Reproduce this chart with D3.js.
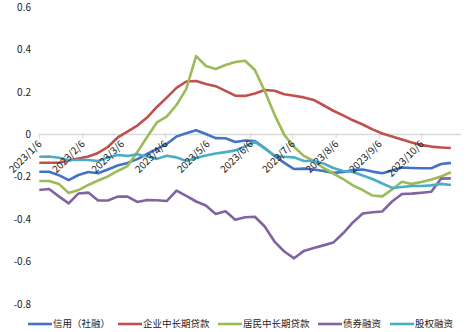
<!DOCTYPE html>
<html><head><meta charset="utf-8">
<script src="https://cdn.jsdelivr.net/npm/d3@7"></script>
<style>
html,body{margin:0;padding:0;background:#fff;}
svg{display:block;}
</style></head>
<body>
<svg id="chart" width="468" height="332"></svg>
<script>
const dates = ["2023-01-06","2023-01-13","2023-01-20","2023-01-27","2023-02-03","2023-02-10","2023-02-17","2023-02-24",
"2023-03-03","2023-03-10","2023-03-17","2023-03-24","2023-03-31","2023-04-07","2023-04-14","2023-04-21","2023-04-28",
"2023-05-05","2023-05-12","2023-05-19","2023-05-26","2023-06-02","2023-06-09","2023-06-16","2023-06-23","2023-06-30",
"2023-07-07","2023-07-14","2023-07-21","2023-07-28","2023-08-04","2023-08-11","2023-08-18","2023-08-25",
"2023-09-01","2023-09-08","2023-09-15","2023-09-22","2023-09-29","2023-10-06","2023-10-13","2023-10-20","2023-10-27"];

const credit = [-0.176,-0.176,-0.192,-0.215,-0.191,-0.177,-0.183,-0.165,-0.146,-0.134,-0.116,-0.092,-0.068,-0.045,-0.009,0.006,0.020,0.002,-0.017,-0.018,-0.035,-0.028,-0.031,-0.064,-0.101,-0.134,-0.163,-0.161,-0.165,-0.172,-0.181,-0.177,-0.167,-0.165,-0.175,-0.183,-0.170,-0.156,-0.158,-0.159,-0.159,-0.139,-0.134];
const corpLoan = [-0.133,-0.133,-0.133,-0.123,-0.113,-0.104,-0.087,-0.059,-0.014,0.014,0.042,0.080,0.130,0.174,0.220,0.250,0.252,0.238,0.228,0.206,0.183,0.182,0.193,0.210,0.206,0.190,0.183,0.175,0.163,0.138,0.112,0.090,0.067,0.047,0.024,0.005,-0.009,-0.024,-0.038,-0.050,-0.057,-0.061,-0.064];
const houseLoan = [-0.219,-0.219,-0.233,-0.276,-0.262,-0.238,-0.217,-0.198,-0.172,-0.149,-0.083,-0.012,0.057,0.084,0.139,0.215,0.370,0.323,0.309,0.328,0.342,0.348,0.304,0.205,0.094,-0.002,-0.059,-0.101,-0.125,-0.158,-0.184,-0.210,-0.240,-0.262,-0.288,-0.292,-0.259,-0.223,-0.233,-0.224,-0.212,-0.198,-0.178];
const bond = [-0.262,-0.257,-0.292,-0.325,-0.278,-0.274,-0.311,-0.311,-0.293,-0.293,-0.318,-0.309,-0.310,-0.314,-0.265,-0.290,-0.316,-0.335,-0.375,-0.362,-0.402,-0.390,-0.388,-0.434,-0.505,-0.552,-0.584,-0.549,-0.535,-0.523,-0.510,-0.466,-0.415,-0.373,-0.367,-0.363,-0.316,-0.281,-0.279,-0.275,-0.270,-0.208,-0.207];
const equity = [-0.105,-0.104,-0.110,-0.120,-0.120,-0.120,-0.125,-0.108,-0.097,-0.101,-0.093,-0.104,-0.115,-0.100,-0.108,-0.125,-0.111,-0.099,-0.090,-0.083,-0.075,-0.057,-0.034,-0.066,-0.099,-0.105,-0.108,-0.125,-0.125,-0.137,-0.158,-0.172,-0.177,-0.193,-0.210,-0.231,-0.252,-0.248,-0.243,-0.243,-0.240,-0.233,-0.238];

const seriesNames = ["信用（社融）","企业中长期贷款","居民中长期贷款","债券融资","股权融资"];
const seriesColors = ["#4472C4","#C0504D","#9BBB59","#8064A2","#4BACC6"];
const yTicks = [0.6,0.4,0.2,0,-0.2,-0.4,-0.6,-0.8];
const yTickLabels = ["0.6","0.4","0.2","0","-0.2","-0.4","-0.6","-0.8"];
const xTickDates = ["2023-01-06","2023-02-06","2023-03-06","2023-04-06","2023-05-06","2023-06-06","2023-07-06","2023-08-06","2023-09-06","2023-10-06"];
const xTickLabels = ["2023/1/6","2023/2/6","2023/3/6","2023/4/6","2023/5/6","2023/6/6","2023/7/6","2023/8/6","2023/9/6","2023/10/6"];

const parse = d3.timeParse("%Y-%m-%d");
const svg = d3.select("#chart");
const x = d3.scaleTime().domain([parse("2023-01-06"), parse("2023-11-03")]).range([39.3, 460.7]);
const y = d3.scaleLinear().domain([-0.8, 0.6]).range([304.1, 7.3]);
const font = "'Noto Sans CJK SC','Noto Sans',sans-serif";

// y labels
svg.append("g").selectAll("text").data(yTicks).join("text")
  .attr("x", 31).attr("y", d => y(d)).attr("dy", "0.35em")
  .attr("text-anchor", "end").attr("font-family", font).attr("font-size", 10).attr("fill", "#222")
  .text((d,i) => yTickLabels[i]);

// x axis line at 0
const xa = svg.append("g").attr("transform", `translate(0,${y(0)})`);
xa.append("line").attr("x1", 39.3).attr("x2", 461).attr("stroke", "#d9d9d9").attr("stroke-width", 1.3);
const tickDates = xTickDates.map(parse);
xa.selectAll("line.tk").data(tickDates).join("line").attr("class","tk")
  .attr("x1", d => x(d)).attr("x2", d => x(d)).attr("y1", -1).attr("y2", 4)
  .attr("stroke", "#d9d9d9").attr("stroke-width", 1.2);

const series = [credit, corpLoan, houseLoan, bond, equity];
const line = d3.line().x((d,i) => x(parse(dates[i]))).y(d => y(d));
series.forEach((s, k) => {
  svg.append("path").datum(s).attr("d", line).attr("fill", "none")
    .attr("stroke", seriesColors[k]).attr("stroke-width", 2.6).attr("stroke-linejoin", "round");
});

// x labels (drawn on top)
svg.append("g").selectAll("text").data(tickDates).join("text")
  .attr("transform", d => `translate(${x(d) + 3},${y(0) + 10}) rotate(-45)`)
  .attr("text-anchor", "end").attr("font-family", font).attr("font-size", 10).attr("fill", "#222")
  .text((d,i) => xTickLabels[i]);

// legend
const legendX = [28, 118, 218, 318, 390];
const lg = svg.append("g");
seriesNames.forEach((n, k) => {
  lg.append("line").attr("x1", legendX[k]).attr("x2", legendX[k] + 24).attr("y1", 324).attr("y2", 324)
    .attr("stroke", seriesColors[k]).attr("stroke-width", 2.6);
  lg.append("text").attr("x", legendX[k] + 25).attr("y", 324).attr("dy", "0.35em")
    .attr("font-family", font).attr("font-size", 9.5).attr("fill", "#222").text(n);
});
</script>
</body></html>
